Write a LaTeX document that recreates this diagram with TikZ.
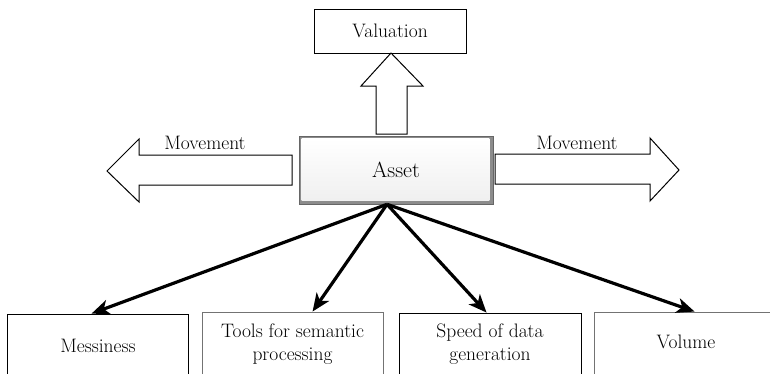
\documentclass[tikz,border=0pt]{standalone}
\usepackage{fontspec}
\usetikzlibrary{arrows.meta,calc}
\begin{document}
\begin{tikzpicture}[x=1pt,y=-1pt,
  lbl/.style={font=\fontsize{19.5}{23}\selectfont, inner sep=0pt, align=center},
  box/.style={draw, line width=0.9pt, inner sep=0pt},
  graybox/.style={box, draw=black!55},
  blk/.style={draw, line width=1pt, fill=white, line join=miter},
  conn/.style={line width=3.2pt, -{Stealth[length=18pt,width=15pt,inset=5pt]}}]
\useasboundingbox (0,0) rectangle (770,373);
\clip (0,0) rectangle (770,373);

% top box
\node[box, minimum width=152pt, minimum height=44pt] (val) at (390,31) {};
\node[lbl, anchor=base] (valt) at (390,37) {Valuation};

% asset box with bevel
\node[fill=black!45, draw=black!60, line width=0.6pt, minimum width=194pt, minimum height=68pt, inner sep=0pt] (asset) at (396,170) {};
\shade[top color=white, bottom color=black!6]
  ([shift={(3,3)}]asset.north west) rectangle ([shift={(-4,-4)}]asset.south east);
\node[font=\fontsize{22}{26}\selectfont, inner sep=0pt, anchor=base] (assett) at (396,177) {Asset};

% block arrows
\draw[blk] (376,134) -- (376,86) -- (361,86) -- (391,53) -- (423,86) -- (407,86) -- (407,134) -- cycle;
\draw[blk] (292,155) -- (139,155) -- (139,139) -- (107,171) -- (139,202) -- (139,185) -- (292,185) -- cycle;
\draw[blk] (495,154) -- (650,154) -- (650,138) -- (679,170) -- (650,201) -- (650,184) -- (495,184) -- cycle;
\node[lbl, anchor=base] (movl) at (205,149) {Movement};
\node[lbl, anchor=base] (movr) at (577,149) {Movement};

% bottom boxes
\node[box, minimum width=181pt, minimum height=80pt] (mess) at (97.5,354) {};
\node[graybox, minimum width=181pt, minimum height=80pt] (tools) at (292.5,352) {};
\node[box, minimum width=182pt, minimum height=80pt] (speed) at (490,353) {};
\node[graybox, minimum width=190pt, minimum height=80pt] (vol) at (689,352) {};

\node[lbl, anchor=base] (messt) at (98,352) {Messiness};
\node[lbl] (toolst) at (292.5,344) {Tools for semantic\\processing};
\node[lbl] (speedt) at (490,344) {Speed of data\\generation};
\node[lbl, anchor=base] (volt) at (686,348) {Volume};

% connectors
\coordinate (src) at ([xshift=-9pt]asset.south);
\draw[conn] (src) -- ([xshift=85pt]mess.north west);
\draw[conn] (src) -- ([xshift=111pt]tools.north west);
\draw[conn] (src) -- ([xshift=88pt]speed.north west);
\draw[conn] (src) -- ([xshift=101pt]vol.north west);
\end{tikzpicture}
\end{document}
